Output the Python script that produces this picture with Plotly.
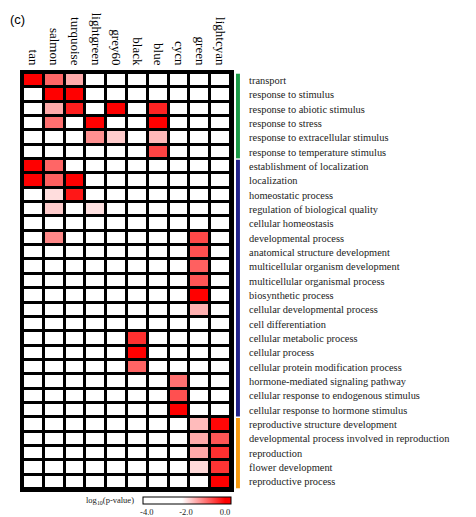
import plotly.graph_objects as go

modules = ["tan", "salmon", "turquoise", "lightgreen", "grey60", "black",
           "blue", "cycn", "green", "lightcyan"]

terms = [
    "transport", "response to stimulus", "response to abiotic stimulus",
    "response to stress", "response to extracellular stimulus",
    "response to temperature stimulus", "establishment of localization",
    "localization", "homeostatic process", "regulation of biological quality",
    "cellular homeostasis", "developmental process",
    "anatomical structure development", "multicellular organism development",
    "multicellular organismal process", "biosynthetic process",
    "cellular developmental process", "cell differentiation",
    "cellular metabolic process", "cellular process",
    "cellular protein modification process",
    "hormone-mediated signaling pathway",
    "cellular response to endogenous stimulus",
    "cellular response to hormone stimulus",
    "reproductive structure development",
    "developmental process involved in reproduction", "reproduction",
    "flower development", "reproductive process",
]

N = None
# log10(p-value) per term (rows) and module (columns); None = not enriched
log_p = [
    [0.0, -0.88, -1.47, N, N, N, N, N, N, N],
    [N, 0.0, 0.0, N, N, N, N, N, N, N],
    [N, -1.47, -0.26, N, 0.0, N, -0.30, N, N, N],
    [N, -0.97, N, 0.0, N, N, 0.0, N, N, N],
    [N, N, N, -1.24, -1.76, N, -1.59, N, N, N],
    [N, N, N, N, N, N, -0.59, N, N, N],
    [0.0, -0.88, N, N, N, N, N, N, N, N],
    [0.0, -0.83, 0.0, N, N, N, N, N, N, N],
    [N, -1.91, -0.20, N, N, N, N, N, N, N],
    [N, -1.76, N, -1.94, N, N, N, N, N, N],
    [N, N, N, N, N, N, N, N, N, N],
    [N, -1.17, N, N, N, N, N, N, -0.62, N],
    [N, N, N, N, N, N, N, N, -0.69, N],
    [N, N, N, N, N, N, N, N, -0.83, N],
    [N, N, N, N, N, N, N, N, -0.73, N],
    [N, N, N, N, N, N, N, N, 0.0, N],
    [N, N, N, N, N, N, N, N, -1.52, N],
    [N, N, N, N, N, N, N, N, N, N],
    [N, N, N, N, N, -0.41, N, N, N, N],
    [N, N, N, N, N, 0.0, N, N, N, N],
    [N, N, N, N, N, -0.86, N, N, N, N],
    [N, N, N, N, N, N, N, -0.97, N, N],
    [N, N, N, N, N, N, N, -0.69, N, N],
    [N, N, N, N, N, N, N, 0.0, N, N],
    [N, N, N, N, N, N, N, N, -1.61, -0.05],
    [N, N, N, N, N, N, N, N, -1.47, -0.73],
    [N, N, N, N, N, N, N, N, -1.45, -0.41],
    [N, N, N, N, N, N, N, N, -1.87, -0.45],
    [N, N, N, N, N, N, N, N, N, 0.0],
]

# term groups: (first row, last row, colour)
groups = [(0, 5, "#1a9a46"), (6, 23, "#22228a"), (24, 28, "#f59a0f")]

zmin, zmax = -4.2, 0.3
z = [[zmin if v is None else v for v in row] for row in log_p]

def t(v):
    return (v - zmin) / (zmax - zmin)

colorscale = [[0, "#ffffff"], [t(-2.2), "#ffffff"], [t(0.0), "#ff0000"], [1, "#ff0000"]]

fig = go.Figure(go.Heatmap(
    z=z, x=modules, y=terms,
    zmin=zmin, zmax=zmax, colorscale=colorscale,
    xgap=3, ygap=3, hoverongaps=False,
    colorbar=dict(
        orientation="h", x=0.788, xanchor="center", y=-0.019, yanchor="top",
        len=0.423, lenmode="fraction", thickness=7, thicknessmode="pixels",
        outlinecolor="black", outlinewidth=1, xpad=0, ypad=0,
        tickvals=[-4, -2, 0], ticktext=["-4.0", "-2.0", "0.0"],
        ticks="", tickfont=dict(family="Liberation Serif", size=8.5, color="#222"),
    ),
))

for r0, r1, col in groups:
    fig.add_shape(type="rect", xref="paper", yref="y",
                  x0=1.024, x1=1.043, y0=r0 - 0.45, y1=r1 + 0.45,
                  fillcolor=col, line=dict(width=0))

fig.add_annotation(text="(c)", xref="paper", yref="paper", x=-0.072, y=1.128,
                   xanchor="left", yanchor="middle", showarrow=False,
                   font=dict(family="Liberation Sans", size=13, color="black"))
fig.add_annotation(text="log<sub>10</sub>(p-value)", xref="paper", yref="paper",
                   x=0.545, y=-0.027, xanchor="right", yanchor="middle",
                   showarrow=False,
                   font=dict(family="Liberation Serif", size=8.5, color="#222"))

fig.update_xaxes(side="top", tickangle=90, showgrid=False, zeroline=False,
                 ticks="", range=[-0.5, 9.5], showline=True, mirror=True,
                 linecolor="black", linewidth=3, automargin=False,
                 tickfont=dict(family="Liberation Serif", size=13, color="black"))
fig.update_yaxes(side="right", autorange=False, range=[28.5, -0.5],
                 showgrid=False, zeroline=False, ticks="", ticklabelstandoff=13,
                 showline=True, mirror=True, linecolor="black", linewidth=3,
                 automargin=False,
                 tickfont=dict(family="Liberation Serif", size=10.4, color="#222"))

fig.update_layout(
    width=468, height=509,
    margin=dict(l=15, r=245, t=65, b=28, autoexpand=False),
    plot_bgcolor="black", paper_bgcolor="white",
    showlegend=False,
)

fig.write_html("out.html")
